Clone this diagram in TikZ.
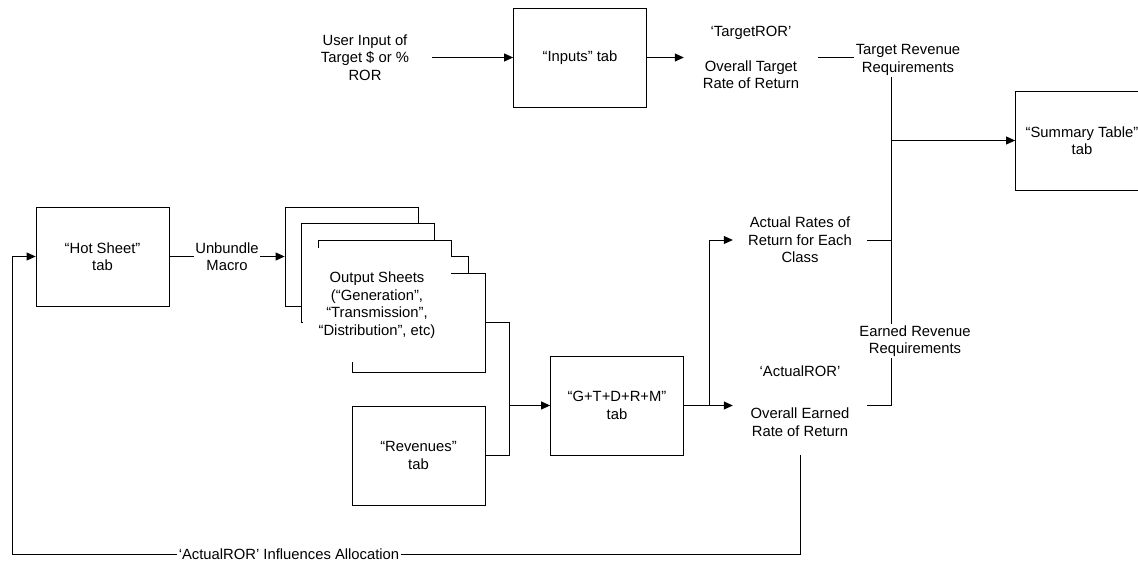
\documentclass[tikz,border=0pt]{standalone}
\usepackage{fontspec}
\setmainfont{Liberation Sans}
\usetikzlibrary{arrows.meta}
\begin{document}
\begin{tikzpicture}[x=1pt,y=-1pt,
  every node/.style={font=\fontsize{14.8}{17.5}\selectfont, align=center},
  box/.style={draw, line width=0.8pt, fill=white, minimum width=133pt, minimum height=99pt, inner sep=0pt},
  lbl/.style={minimum width=134pt, inner sep=0pt},
  tag/.style={fill=white, inner sep=1.5pt},
  arr/.style={-{Triangle[length=9pt,width=8pt]}},
  ln/.style={line width=0.8pt}]
\useasboundingbox (0,0) rectangle (1138,561);
% nodes
\node[lbl] (user) at (365,57.5) {User Input of\\Target \$ or \%\\ROR};
\node[box] (inputs) at (580,57.5) {“Inputs” tab};
\node[lbl] (targetror) at (751,57.5) {‘TargetROR’\\[17.5pt]Overall Target\\Rate of Return};
\node[box] (summary) at (1082,140.5) {“Summary Table”\\tab};
\node[box] (hot) at (102.5,256.5) {“Hot Sheet”\\tab};
\node[box] (s1) at (351.5,256.5) {};
\node[box] (s2) at (368.25,273) {};
\node[box] (s3) at (385,289.5) {};
\node[box] (s4) at (401.75,306) {};
\node[box] (s5) at (418.5,322.5) {};
\node[fill=white, minimum width=148pt, minimum height=114pt, inner sep=0pt] (outtxt) at (377,305) {Output Sheets\\(“Generation”,\\“Transmission”,\\“Distribution”, etc)};
\node[box] (rev) at (418.5,455.5) {“Revenues”\\tab};
\node[box] (gtdrm) at (617,405.5) {“G+T+D+R+M”\\tab};
\node[lbl] (actual) at (800,240) {Actual Rates of\\Return for Each\\Class};
\node (actualror) at (800,371) {‘ActualROR’};
\node[lbl] (earned) at (800,422) {Overall Earned\\Rate of Return};
\coordinate (j) at (891,140.5);
\coordinate (mx) at (509,405.5);
\coordinate (gx) at (709,405.5);
\coordinate (fb) at (12,554);
% connectors
\draw[ln,arr] (user.east) -- (inputs.west);
\draw[ln,arr] (inputs.east) -- (targetror.west);
\draw[ln] (targetror.east) -| (j);
\draw[ln] (actual.east) -| (j);
\draw[ln] (earned.east |- gx) -| (j);
\draw[ln,arr] (j) -- (summary.west);
\draw[ln,arr] (hot.east) -- node[tag] (unb) {Unbundle\\Macro} (s1.west);
\draw[ln] (s5.east) -| (mx);
\draw[ln] (rev.east) -| (mx);
\draw[ln,arr] (mx) -- (gtdrm.west);
\draw[ln] (gtdrm.east) -- (gx);
\draw[ln,arr] (gx) |- (actual.west);
\draw[ln,arr] (gx) -- (gx -| earned.west);
\draw[ln,arr] (earned.center |- gtdrm.south) |- (fb) |- (hot.west);
% connector labels
\node[tag] (trr) at (908,60) {Target Revenue\\Requirements};
\node[tag] (err) at (915,341) {Earned Revenue\\Requirements};
\node[tag] (infl) at (289,554) {‘ActualROR’ Influences Allocation};
\end{tikzpicture}
\end{document}
